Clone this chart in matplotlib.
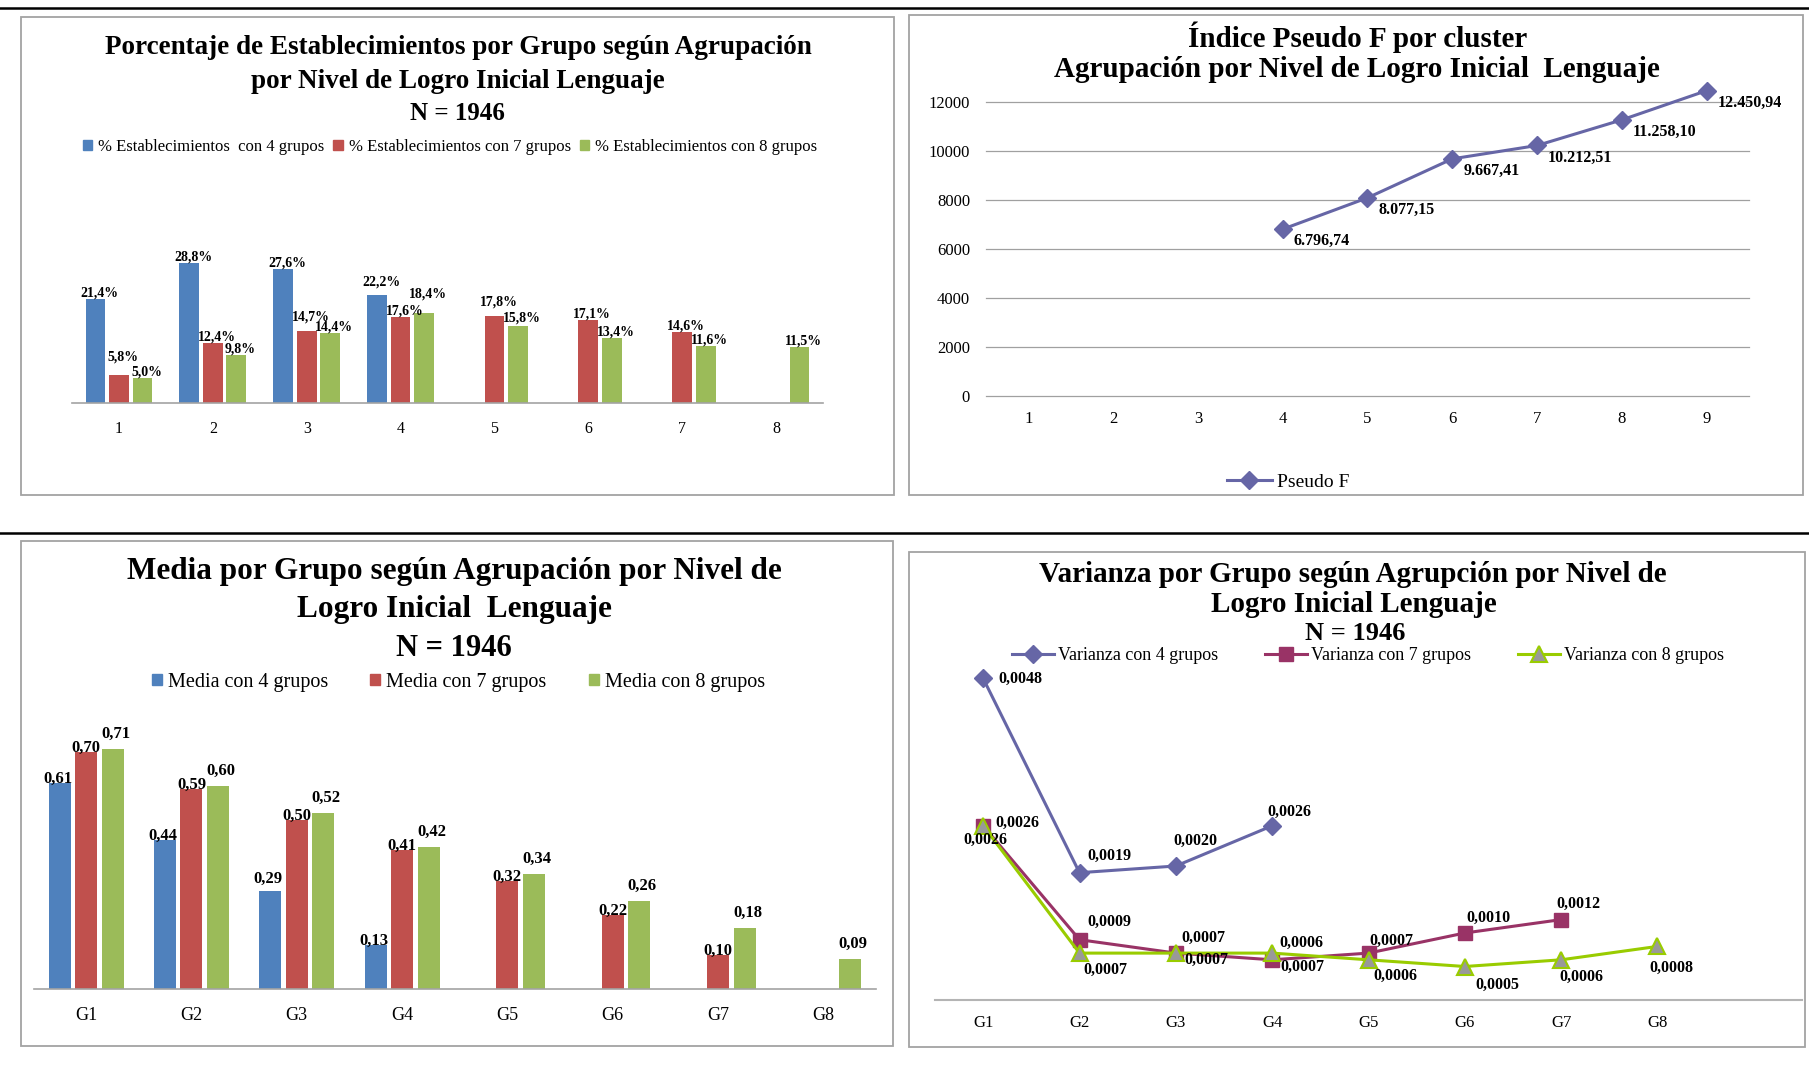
import matplotlib
matplotlib.use("Agg")
import matplotlib.pyplot as plt
from matplotlib.patches import Rectangle, Patch
from matplotlib.lines import Line2D

plt.rcParams['font.family'] = ['Liberation Serif', 'DejaVu Serif']

# ---------------- data ----------------
pct_groups = ['1', '2', '3', '4', '5', '6', '7', '8']
pct_4 = [21.4, 28.8, 27.6, 22.2]
pct_7 = [5.8, 12.4, 14.7, 17.6, 17.8, 17.1, 14.6]
pct_8 = [5.0, 9.8, 14.4, 18.4, 15.8, 13.4, 11.6, 11.5]
pct_names = ['% Establecimientos  con 4 grupos',
             '% Establecimientos con 7 grupos',
             '% Establecimientos con 8 grupos']

pf_clusters = [1, 2, 3, 4, 5, 6, 7, 8, 9]
pf_k = [4, 5, 6, 7, 8, 9]
pf_values = [6796.74, 8077.15, 9667.41, 10212.51, 11258.10, 12450.94]
pf_yticks = [0, 2000, 4000, 6000, 8000, 10000, 12000]

grp_labels = ['G1', 'G2', 'G3', 'G4', 'G5', 'G6', 'G7', 'G8']
mean_4 = [0.61, 0.44, 0.29, 0.13]
mean_7 = [0.70, 0.59, 0.50, 0.41, 0.32, 0.22, 0.10]
mean_8 = [0.71, 0.60, 0.52, 0.42, 0.34, 0.26, 0.18, 0.09]
mean_names = ['Media con 4 grupos', 'Media con 7 grupos', 'Media con 8 grupos']

var_4 = [0.0048, 0.0019, 0.0020, 0.0026]
var_7 = [0.0026, 0.0009, 0.0007, 0.0006, 0.0007, 0.0010, 0.0012]
var_8 = [0.0026, 0.0007, 0.0007, 0.0007, 0.0006, 0.0005, 0.0006, 0.0008]
var_names = ['Varianza con 4 grupos', 'Varianza con 7 grupos', 'Varianza con 8 grupos']

# ---------------- styles ----------------
BLUE, RED, GREEN = '#4F81BD', '#C0504D', '#9BBB59'
SLATE, PLUM, LIME = '#6666A6', '#993366', '#99CC00'
FRAME = '#a3a3a3'

W, H = 1809, 1078
fig = plt.figure(figsize=(W / 100, H / 100), dpi=100)
fig.patch.set_facecolor('white')


def fx(x):
    return x / W


def fy(y):
    return 1 - y / H


def px_axes(left, top, right, bottom):
    return fig.add_axes([fx(left), fy(bottom), (right - left) / W, (bottom - top) / H])


def frame(left, top, right, bottom):
    fig.add_artist(Rectangle((fx(left), fy(bottom)), (right - left) / W, (bottom - top) / H,
                             transform=fig.transFigure, fill=False, ec=FRAME, lw=1.3))


def title(x, y, s, size):
    fig.text(fx(x), fy(y), s, ha='center', va='center', fontsize=size, fontweight='bold')


def dec(v, nd):
    return f"{v:.{nd}f}".replace('.', ',')


# separator rules
for yy in (7.5, 533):
    fig.add_artist(Line2D([0, 1], [fy(yy), fy(yy)], color='black', lw=1.8,
                          transform=fig.transFigure))

# panel frames
frame(21, 17, 894, 495)
frame(909, 15, 1803, 495)
frame(21, 541, 893, 1046)
frame(909, 552, 1805, 1047)

# ================= panel 1: percentage bars =================
title(458, 47, 'Porcentaje de Establecimientos por Grupo según Agrupación', 19.5)
title(458, 81, 'por Nivel de Logro Inicial Lenguaje', 19.5)
title(457, 113, 'N = 1946', 18)

ax1 = px_axes(72, 170, 823, 402.7)
off = [-0.25, 0.0, 0.25]
series1 = [pct_4, pct_7, pct_8]
colors = [BLUE, RED, GREEN]
lift1 = [[0, 0, 0, 7],
         [12, 0, 8, 0, 8, 0, 0],
         [0, 0, 0, 13, 2, 0, 0, 0]]
for s, (vals, col) in enumerate(zip(series1, colors)):
    xs = [i + 1 + off[s] for i in range(len(vals))]
    ax1.bar(xs, vals, width=0.21, color=col, zorder=2)
    for i, (x, v) in enumerate(zip(xs, vals)):
        ax1.annotate(dec(v, 1) + '%', (x, v), xytext=(4, 6 + lift1[s][i]),
                     textcoords='offset pixels', ha='center', va='center',
                     fontsize=10, fontweight='bold', zorder=3)
ax1.set_xlim(0.5, 8.5)
ax1.set_ylim(0, 48)
ax1.set_xticks(range(1, 9))
ax1.set_xticklabels(pct_groups, fontsize=11.5)
ax1.set_yticks([])
for sp in ('left', 'right', 'top'):
    ax1.spines[sp].set_visible(False)
ax1.spines['bottom'].set_color(FRAME)
ax1.spines['bottom'].set_linewidth(1.2)
ax1.tick_params(axis='x', length=0, pad=13)
ax1.patch.set_alpha(0)
h1 = [Patch(color=c) for c in colors]
fig.legend(h1, pct_names, loc='center', bbox_to_anchor=(fx(450), fy(147)), ncol=3,
           frameon=False, fontsize=12, handlelength=0.55, handleheight=0.55,
           handletextpad=0.36, columnspacing=0.55, borderpad=0, borderaxespad=0)

# ================= panel 2: pseudo F line =================
title(1358, 37, 'Índice Pseudo F por cluster', 21)
title(1357, 69, 'Agrupación por Nivel de Logro Inicial  Lenguaje', 21)

ax2 = px_axes(986, 77.2, 1749, 395.7)
ax2.plot(pf_k, pf_values, color=SLATE, lw=2.2, marker='D', markersize=9, clip_on=False, zorder=3)
for k, v in zip(pf_k, pf_values):
    txt = f"{v:,.2f}".replace(',', '_').replace('.', ',').replace('_', '.')
    ax2.annotate(txt, (k, v), xytext=(11, -12), textcoords='offset pixels',
                 ha='left', va='center', fontsize=11.5, fontweight='bold')
ax2.set_xlim(0.5, 9.5)
ax2.set_ylim(0, 13000)
ax2.set_xticks(pf_clusters)
ax2.set_xticklabels([str(c) for c in pf_clusters], fontsize=12)
ax2.set_yticks(pf_yticks)
ax2.set_yticklabels([str(t) for t in pf_yticks], fontsize=12)
ax2.grid(axis='y', color='#a0a0a0', lw=0.9)
for gl in ax2.get_ygridlines():
    gl.set_clip_on(False)
ax2.set_axisbelow(True)
for sp in ax2.spines.values():
    sp.set_visible(False)
ax2.tick_params(axis='x', length=0, pad=11)
ax2.tick_params(axis='y', length=0, pad=11.5)
ax2.patch.set_alpha(0)
h2 = [Line2D([], [], color=SLATE, lw=2.2, marker='D', markersize=9)]
fig.legend(h2, ['Pseudo F'], loc='center', bbox_to_anchor=(fx(1288), fy(482)),
           frameon=False, fontsize=14, handlelength=2.3, handletextpad=0.25,
           borderpad=0, borderaxespad=0)

# ================= panel 3: mean bars =================
title(454, 571, 'Media por Grupo según Agrupación por Nivel de', 22.5)
title(454, 610, 'Logro Inicial  Lenguaje', 22.5)
title(454, 648, 'N = 1946', 22)

ax3 = px_axes(33.5, 700, 876, 989)
off3 = [-0.252, 0.0, 0.252]
series3 = [mean_4, mean_7, mean_8]
lab_dy3 = [4, 4, 15]
lab_dx3 = [-2, 0, 3]
for s, (vals, col) in enumerate(zip(series3, colors)):
    xs = [i + 1 + off3[s] for i in range(len(vals))]
    ax3.bar(xs, vals, width=0.209, color=col, zorder=2)
    for i, (x, v) in enumerate(zip(xs, vals)):
        extra = 8 if (s == 0 and i == 2) else 0
        ax3.annotate(dec(v, 2), (x, v), xytext=(lab_dx3[s], lab_dy3[s] + extra),
                     textcoords='offset pixels', ha='center', va='center',
                     fontsize=12, fontweight='bold', zorder=3)
ax3.set_xlim(0.5, 8.5)
ax3.set_ylim(0, 289 / 338.5)
ax3.set_xticks(range(1, 9))
ax3.set_xticklabels(grp_labels, fontsize=13)
ax3.set_yticks([])
for sp in ('left', 'right', 'top'):
    ax3.spines[sp].set_visible(False)
ax3.spines['bottom'].set_color(FRAME)
ax3.spines['bottom'].set_linewidth(1.2)
ax3.tick_params(axis='x', length=0, pad=13)
ax3.patch.set_alpha(0)
fig.legend(h1, mean_names, loc='center', bbox_to_anchor=(fx(458.5), fy(682)), ncol=3,
           frameon=False, fontsize=14.5, handlelength=0.5, handleheight=0.5,
           handletextpad=0.3, columnspacing=2.1, borderpad=0, borderaxespad=0)

# ================= panel 4: variance lines =================
title(1353, 574, 'Varianza por Grupo según Agrupción por Nivel de', 21)
title(1354, 605, 'Logro Inicial Lenguaje', 21)
title(1355, 633, 'N = 1946', 19)

ax4 = px_axes(935, 660, 1802, 1000)
line_styles = [
    dict(color=SLATE, marker='D', markersize=9, mfc=SLATE, mec=SLATE),
    dict(color=PLUM, marker='s', markersize=10, mfc=PLUM, mec=PLUM),
    dict(color=LIME, marker='^', markersize=11, mfc='#999999', mec=LIME, mew=1.5),
]
lab_off4 = [
    [(37, 0), (30, 17), (20, 25), (17, 14)],
    [(34, 3), (30, 18), (28, 15), (29, 17), (23, 12), (24, 15), (17, 16)],
    [(2, -14), (26, -17), (31, -7), (30, -14), (27, -16), (33, -18), (20, -17), (14, -21)],
]
series4 = [var_4, var_7, var_8]
for s, vals in enumerate(series4):
    xs = list(range(1, len(vals) + 1))
    ax4.plot(xs, vals, lw=2.2, clip_on=False, zorder=3 + s, **line_styles[s])
    for i, (x, v) in enumerate(zip(xs, vals)):
        ax4.annotate(dec(v, 4), (x, v), xytext=lab_off4[s][i], textcoords='offset pixels',
                     ha='center', va='center', fontsize=11.5, fontweight='bold', zorder=6)
ax4.set_xlim(0.5, 9.5)
ax4.set_ylim(0, 340 / 67000)
ax4.set_xticks(range(1, 9))
ax4.set_xticklabels(grp_labels, fontsize=12)
ax4.set_yticks([])
for sp in ('left', 'right', 'top'):
    ax4.spines[sp].set_visible(False)
ax4.spines['bottom'].set_color('#b4b4b4')
ax4.spines['bottom'].set_linewidth(1.5)
ax4.tick_params(axis='x', length=0, pad=11)
ax4.patch.set_alpha(0)
h4 = [Line2D([], [], lw=2.2, **st) for st in line_styles]
fig.legend(h4, var_names, loc='center', bbox_to_anchor=(fx(1368), fy(656)), ncol=3,
           frameon=False, fontsize=13, handlelength=2.33, handletextpad=0.22,
           columnspacing=2.6, borderpad=0, borderaxespad=0)

fig.savefig('out.png', dpi=100)
